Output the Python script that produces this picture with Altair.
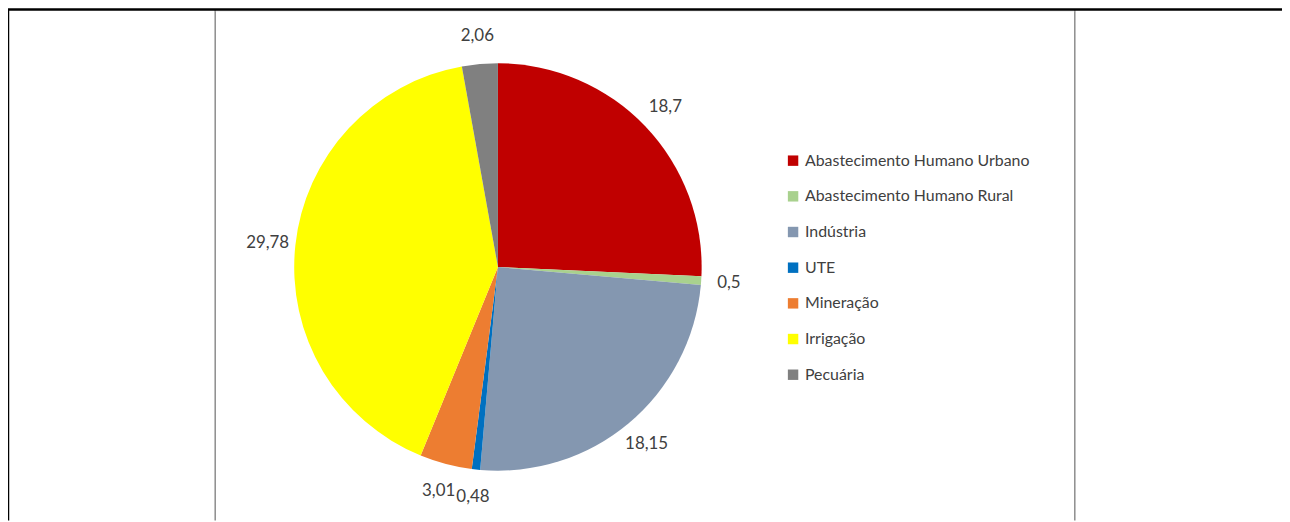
import altair as alt
import pandas as pd

categories = ["Abastecimento Humano Urbano", "Abastecimento Humano Rural", "Indústria",
              "UTE", "Mineração", "Irrigação", "Pecuária"]
values = [18.7, 0.5, 18.15, 0.48, 3.01, 29.78, 2.06]
labels = ["18,7", "0,5", "18,15", "0,48", "3,01", "29,78", "2,06"]
colors = ["#C00000", "#A9D18E", "#8497B0", "#0070C0", "#ED7D31", "#FFFF00", "#808080"]

df = pd.DataFrame({"cat": categories, "val": values, "lab": labels,
                   "ord": list(range(len(categories)))})

W, H = 1282, 514
cx, cy = 493, 259
FONT = "Lato"

base = alt.Chart(df).encode(
    theta=alt.Theta("val:Q", stack=True),
    order=alt.Order("ord:Q"),
)

pie = base.mark_arc(outerRadius=205, strokeWidth=0).encode(
    x=alt.value(cx), y=alt.value(cy),
    color=alt.Color(
        "cat:N",
        scale=alt.Scale(domain=categories, range=colors),
        legend=alt.Legend(
            title=None, orient="none", legendX=782, legendY=144,
            labelFontSize=16, labelFont=FONT, labelColor="#404040",
            symbolType="square", symbolSize=110, symbolStrokeWidth=0,
            rowPadding=19.9, labelLimit=400,
        ),
    ),
)

text = base.mark_text(radius=233, fontSize=17, font=FONT, color="#404040").encode(
    x=alt.value(cx), y=alt.value(cy), text="lab:N"
)

one = alt.Chart(pd.DataFrame({"a": [0]}))
gray_left = one.mark_rule(color="#8c8c8c", strokeWidth=1.5).encode(
    x=alt.value(208.5), y=alt.value(0), y2=alt.value(H))
gray_right = one.mark_rule(color="#8c8c8c", strokeWidth=1.5).encode(
    x=alt.value(1073.5), y=alt.value(0), y2=alt.value(H))
gray_top = one.mark_rule(color="#e8e8e8", strokeWidth=1).encode(
    x=alt.value(209), x2=alt.value(1073), y=alt.value(1.5))
black_top = one.mark_rule(color="#000000", strokeWidth=2.5).encode(
    x=alt.value(0), x2=alt.value(W), y=alt.value(0))
black_left = one.mark_rule(color="#000000", strokeWidth=2.5).encode(
    x=alt.value(0), y=alt.value(0), y2=alt.value(H))

chart = alt.layer(pie, text, gray_left, gray_right, gray_top, black_top, black_left).properties(
    width=W, height=H, autosize=alt.AutoSizeParams(type="none"), padding=0,
    background="white",
).configure_view(stroke=None)

chart.save("out.html", embed_options={"renderer": "svg", "actions": False})
